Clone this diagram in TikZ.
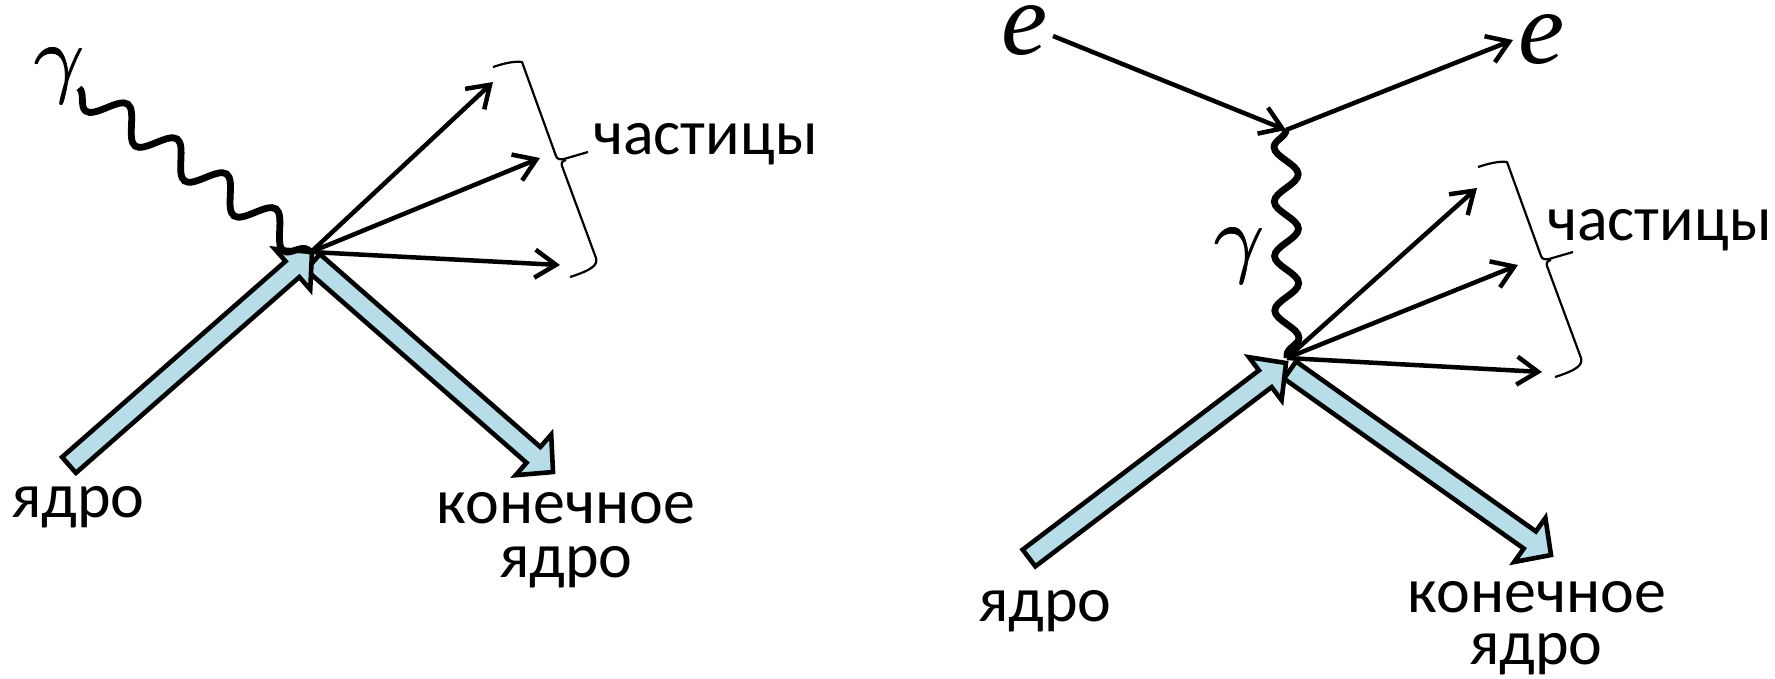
\documentclass[tikz,border=0pt]{standalone}
\usepackage{fontspec}
\setmainfont{Carlito}
\newfontfamily\symfont{Liberation Serif}
\usetikzlibrary{calc,arrows.meta,decorations.pathmorphing}
\definecolor{nucfill}{RGB}{183,222,232}
\tikzset{
  nucleus/.style={draw=black, fill=nucfill, line width=4.6pt, line join=miter, miter limit=10},
  partarrow/.style={line width=4.5pt, -{Straight Barb[length=21pt,width=28pt]}},
  elecarrow/.style={line width=4.5pt, -{Straight Barb[length=21pt,width=28pt]}},
  photonL/.style={line width=6.8pt, decorate, decoration={snake, mirror, segment length=60.5pt, amplitude=15pt}},
  photonR/.style={line width=6.8pt, decorate, decoration={snake, mirror, segment length=54.5pt, amplitude=12pt}},
  bracestyle/.style={line width=2.2pt, line join=round},
  lbl/.style={inner sep=0pt, font=\fontsize{64pt}{54pt}\selectfont},
  mlbl/.style={inner sep=0pt},
  elbl/.style={inner sep=0pt, font=\symfont\itshape\fontsize{104pt}{110pt}\selectfont},
  partbrace/.pic={
    \draw[bracestyle] (493,67) .. controls (505,63) and (515,61) .. (522,62) -- (556,156) .. controls (557,159) and (560,160) .. (564,159) -- (588,152);
    \draw[bracestyle] (566,160) .. controls (562,161) and (561,163) .. (562,166) -- (596,258) .. controls (598,265) and (592,270) .. (570,277);
  }
}
\newcommand\nucarrow[3]{% #1 tail, #2 tip, #3 name prefix
  \coordinate (#3c) at ($(#2)!26pt!(#1)$);
  \draw[nucleus] ($(#1)!10.5pt!90:(#2)$) -- ($(#3c)!10.5pt!90:(#2)$) -- ($(#3c)!27pt!90:(#2)$) -- (#2) -- ($(#3c)!27pt!-90:(#2)$) -- ($(#3c)!10.5pt!-90:(#2)$) -- ($(#1)!10.5pt!-90:(#2)$) -- cycle;
}
\newcommand\biggam{\scalebox{8.8}{\rlap{$\gamma$}\kern0.12pt\rlap{$\gamma$}\raisebox{0.08pt}{$\gamma$}}}
\begin{document}
\begin{tikzpicture}[x=1pt,y=-1pt]
\useasboundingbox (0,0) rectangle (1775,678);
% ---------- left diagram ----------
\coordinate (V1) at (311,252);
\coordinate (inL) at (69,465);
\coordinate (inLtip) at (312,252);
\coordinate (outLs) at (313,262);
\coordinate (outLtip) at (553,472);
\nucarrow{outLs}{outLtip}{oL}
\nucarrow{inL}{inLtip}{iL}
\coordinate (pL1) at (493,82);
\coordinate (pL2) at (540,158);
\coordinate (pL3) at (560,265);
\draw[partarrow] (V1) -- (pL1);
\draw[partarrow] (V1) -- (pL2);
\draw[partarrow] (V1) -- (pL3);
\coordinate (phL) at (79,88);
\draw[photonL] (phL) -- (V1);
\pic at (0,0) {partbrace};
\node[mlbl] (gL) at (59,76) {\biggam};
\node[lbl, anchor=base west] (partL) at (593,154) {частицы};
\node[lbl, anchor=base] (nucL) at (78,517) {ядро};
\node[lbl, anchor=base] (finL1) at (566,523) {конечное};
\node[lbl, anchor=base] (finL2) at (566,577) {ядро};
% ---------- right diagram ----------
\coordinate (V2) at (1287,358);
\coordinate (Vt) at (1286,130);
\coordinate (inR) at (1029,558);
\coordinate (inRtip) at (1286,363);
\coordinate (outRs) at (1290,370);
\coordinate (outRtip) at (1551,555);
\nucarrow{outRs}{outRtip}{oR}
\nucarrow{inR}{inRtip}{iR}
\coordinate (pR1) at (1477,188);
\coordinate (pR2) at (1518,265);
\coordinate (pR3) at (1542,372);
\draw[partarrow] (V2) -- (pR1);
\draw[partarrow] (V2) -- (pR2);
\draw[partarrow] (V2) -- (pR3);
\draw[photonR] (Vt) -- (V2);
\pic at (985,100) {partbrace};
\node[elbl] (eL) at (1025,31) {e};
\node[elbl] (eR) at (1542,40) {e};
\node[mlbl] (gR) at (1239,256) {\biggam};
\coordinate (eInS) at (1053,36);
\coordinate (eOutE) at (1513,40);
\draw[elecarrow] (eInS) -- (Vt);
\draw[elecarrow] (Vt) -- (eOutE);
\node[lbl, anchor=base west] (partR) at (1547,240) {частицы};
\node[lbl, anchor=base] (nucR) at (1045,621) {ядро};
\node[lbl, anchor=base] (finR1) at (1537,612) {конечное};
\node[lbl, anchor=base] (finR2) at (1536,664) {ядро};
\end{tikzpicture}
\end{document}
